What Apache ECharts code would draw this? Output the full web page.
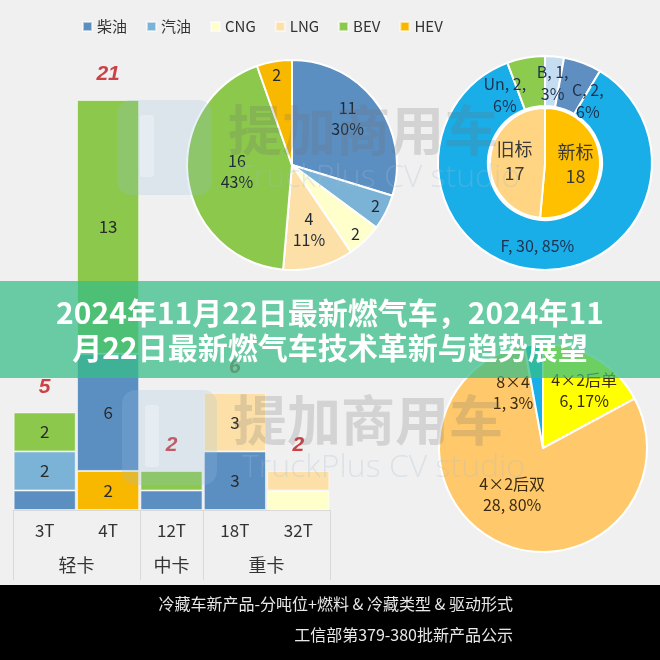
<!DOCTYPE html>
<html><head><meta charset="utf-8">
<script src="https://cdn.jsdelivr.net/npm/echarts@6/dist/echarts.min.js"></script>
<style>html,body{margin:0;padding:0;background:#f0f0f0}#c{width:660px;height:660px}</style>
</head><body><div id="c"></div>
<script>
// ---- data ----
const categories = ['3T', '4T', '12T', '18T', '32T'];
const groupTicks = ['', '', '轻卡', '', '', '中卡', '', '', '重卡', '', ''];
const groupBoundaryTicks = [0, 4, 6, 10];
const fuelNames = ['柴油', '汽油', 'CNG', 'LNG', 'BEV', 'HEV'];
const diesel   = [1, 6, 1, 3, 0];
const gasoline = [2, 0, 0, 0, 0];
const cng      = [0, 0, 0, 0, 1];
const lng      = [0, 0, 0, 3, 1];
const bev      = [2, 13, 1, 0, 0];
const hev      = [0, 2, 0, 0, 0];
const fuelTotals = [11, 2, 2, 4, 16, 2];
const standardNames = ['新标', '旧标'];
const standardValues = [18, 17];
const classNames = ['B', 'C', 'F', 'Un'];
const classValues = [1, 2, 30, 2];
const classPctText = ['3%', '6%', '85%', '6%'];
const driveNames = ['4×2后单', '4×2后双', '8×4'];
const driveValues = [6, 28, 1];
const bannerLines = ['2024年11月22日最新燃气车，2024年11', '月22日最新燃气车技术革新与趋势展望'];
const footerLines = ['冷藏车新产品-分吨位+燃料 & 冷藏类型 & 驱动形式', '工信部第379-380批新产品公示'];
const watermarkTitle = '提加商用车';
const watermarkSub = 'TruckPlus CV studio';

// ---- styles ----
const FONT = '"Noto Sans CJK SC", "Noto Sans", sans-serif';
const fuelColors = {'柴油': '#5B8FC2', '汽油': '#7AB3D6', 'CNG': '#FFFFCC', 'LNG': '#FDE0A8', 'BEV': '#8CC84B', 'HEV': '#F9B800'};
const seriesValues = {'柴油': diesel, '汽油': gasoline, 'CNG': cng, 'LNG': lng, 'BEV': bev, 'HEV': hev};
const stackOrder = ['HEV', '柴油', '汽油', 'CNG', 'LNG', 'BEV'];
const totals = categories.map((c, i) => fuelNames.reduce((s, n) => s + seriesValues[n][i], 0));

const barSeries = stackOrder.map(name => ({
  type: 'bar', name: name, stack: 'a', barCategoryGap: '2%',
  data: seriesValues[name].map(v => v === 0 ? '-' : v),
  itemStyle: {color: fuelColors[name], borderColor: 'rgba(255,255,255,0.55)', borderWidth: 1},
  label: {show: true, position: 'inside', fontSize: 17, color: '#2a2a2a', fontFamily: FONT,
          formatter: p => (p.value >= 2 ? String(p.value) : '')}
}));

const pie1Offsets = [[11, -14], [34, 16], [25, 29], [3, 11], [0, -1], [-6, -35]];
const ringOffsets = [[0, 5], [13, 18], [0, -2], [-25, 16]];
const pie3Offsets = [[13, -10], [-7, -3], [-25, -1]];

const graphics = [];
[[0, 0], [5, 290]].forEach(([ox, oy]) => {
  graphics.push({type: 'rect', z: 50, shape: {x: 117 + ox, y: 100 + oy, width: 95, height: 95, r: 14},
    style: {fill: 'rgba(150,190,225,0.22)'}});
  graphics.push({type: 'rect', z: 51, shape: {x: 140 + ox, y: 115 + oy, width: 14, height: 62, r: 3},
    style: {fill: 'rgba(255,255,255,0.3)'}});
  graphics.push({type: 'text', z: 52, style: {text: watermarkTitle, x: 228 + ox, y: 130 + oy,
    font: 'bold 54px ' + FONT, fill: 'rgba(110,110,110,0.22)', textAlign: 'left', textVerticalAlign: 'middle',
    align: 'left', verticalAlign: 'middle'}});
  graphics.push({type: 'text', z: 52, style: {text: watermarkSub, x: 237 + ox, y: 178 + oy,
    font: '300 32px "Open Sans", sans-serif', fill: 'rgba(165,185,210,0.28)', textAlign: 'left', textVerticalAlign: 'middle',
    align: 'left', verticalAlign: 'middle'}});
});
graphics.push({type: 'rect', z: 100, shape: {x: 0, y: 281, width: 660, height: 97}, style: {fill: 'rgba(54,189,134,0.73)'}});
bannerLines.forEach((t, i) => graphics.push({type: 'text', z: 101, style: {text: t, x: 330, y: 313 + i * 35,
  font: 'bold 30px ' + FONT, fill: '#ffffff', textAlign: 'center', textVerticalAlign: 'middle', align: 'center', verticalAlign: 'middle'}}));
graphics.push({type: 'rect', z: 100, shape: {x: 0, y: 585, width: 660, height: 75}, style: {fill: '#000000'}});
footerLines.forEach((t, i) => graphics.push({type: 'text', z: 101, style: {text: t, x: 513, y: 604 + i * 31,
  font: '16px ' + FONT, fill: '#e8e8e8', textAlign: 'right', textVerticalAlign: 'middle', align: 'right', verticalAlign: 'middle'}}));

const option = {
  animation: false,
  backgroundColor: '#f0f0f0',
  textStyle: {fontFamily: FONT},
  legend: {
    data: fuelNames, left: 77, top: 14, icon: 'rect', itemWidth: 9, itemHeight: 9, itemGap: 19,
    textStyle: {fontSize: 15, color: '#333', fontFamily: FONT}
  },
  grid: {left: 13, right: 330, top: 100, bottom: 150},
  xAxis: [
    {type: 'category', data: categories,
     axisLine: {lineStyle: {color: '#d9d9d9'}}, axisTick: {show: false},
     axisLabel: {fontSize: 17, color: '#333', margin: 12, fontFamily: FONT}},
    {type: 'category', data: groupTicks, boundaryGap: false, position: 'bottom', offset: 0,
     axisLine: {show: false},
     axisTick: {show: true, length: 70, interval: (i) => groupBoundaryTicks.includes(i), lineStyle: {color: '#d9d9d9'}},
     axisLabel: {interval: 0, fontSize: 18, color: '#333', margin: 46, fontFamily: FONT}}
  ],
  yAxis: {type: 'value', min: 0, max: 21, show: false},
  series: [
    ...barSeries,
    {type: 'scatter', name: 'total', data: totals, symbolSize: 0, silent: true,
     label: {show: true, position: 'top', distance: 15, fontSize: 21, fontStyle: 'italic', fontWeight: 'bold',
             color: '#C0161C', fontFamily: '"Liberation Sans", sans-serif', formatter: p => String(p.value)}},
    {type: 'pie', name: 'fuel', center: [292, 165], radius: 105, startAngle: 90, clockwise: true,
     data: fuelNames.map((n, i) => ({name: n, value: fuelTotals[i], itemStyle: {color: fuelColors[n]}})),
     itemStyle: {borderColor: '#ffffff', borderWidth: 2},
     label: {show: true, position: 'inside', fontSize: 16, lineHeight: 21, color: '#1f2a36', fontFamily: FONT,
             formatter: p => p.value >= 4 ? p.value + '\n' + Math.round(p.percent) + '%' : String(p.value)},
     labelLayout: p => ({dx: pie1Offsets[p.dataIndex][0], dy: pie1Offsets[p.dataIndex][1]})},
    {type: 'pie', name: 'standard', center: [545, 163], radius: [0, 55], startAngle: 90,
     data: standardNames.map((n, i) => ({name: n, value: standardValues[i], itemStyle: {color: ['#FFC000', '#FFD483'][i]}})),
     itemStyle: {borderColor: '#ffffff', borderWidth: 2},
     label: {show: true, position: 'inside', fontSize: 18, lineHeight: 24, color: '#3a3a3a', fontFamily: FONT,
             formatter: p => p.name + '\n' + p.value}},
    {type: 'pie', name: 'class', center: [545, 163], radius: [57, 107], startAngle: 90,
     data: classNames.map((n, i) => ({name: n, value: classValues[i],
       itemStyle: {color: ['#C5DDF0', '#5E8FC0', '#1AAEE8', '#8DCB4E'][i]}})),
     itemStyle: {borderColor: '#ffffff', borderWidth: 2},
     label: {show: true, position: 'inside', fontSize: 16, lineHeight: 22, color: '#1f3050', fontFamily: FONT,
             formatter: p => p.value >= 10 ? p.name + ', ' + p.value + ', ' + classPctText[p.dataIndex]
                                            : p.name + ', ' + p.value + ',\n' + classPctText[p.dataIndex]},
     labelLayout: p => ({dx: ringOffsets[p.dataIndex][0], dy: ringOffsets[p.dataIndex][1]})},
    {type: 'pie', name: 'drive', center: [543, 448], radius: 104, startAngle: 90,
     data: driveNames.map((n, i) => ({name: n, value: driveValues[i], itemStyle: {color: ['#FFFF00', '#FFC96B', '#1AAEE8'][i]}})),
     itemStyle: {borderColor: '#ffffff', borderWidth: 2},
     label: {show: true, position: 'inside', fontSize: 16, lineHeight: 21, color: '#3a2a10', fontFamily: FONT,
             formatter: p => p.name + '\n' + p.value + ', ' + Math.round(p.percent) + '%'},
     labelLayout: p => ({dx: pie3Offsets[p.dataIndex][0], dy: pie3Offsets[p.dataIndex][1]})}
  ],
  graphic: {elements: graphics}
};
const chart = echarts.init(document.getElementById('c'), null, {renderer: 'canvas'});
chart.setOption(option);
</script></body></html>
